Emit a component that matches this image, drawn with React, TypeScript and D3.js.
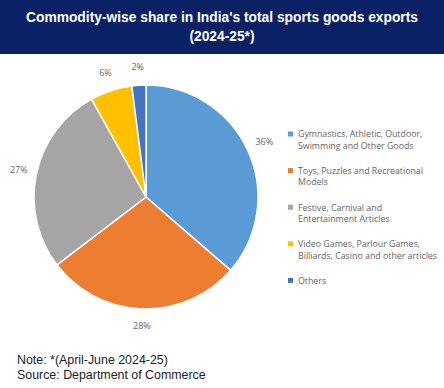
import React, { useEffect, useRef } from "react";
import * as d3 from "d3";

const categories = [
  "Gymnastics, Athletic, Outdoor, Swimming and Other Goods",
  "Toys, Puzzles and Recreational Models",
  "Festive, Carnival and Entertainment Articles",
  "Video Games, Parlour Games, Billiards, Casino and other articles",
  "Others",
];
// legend text as it wraps in the picture
const legendLines = [
  ["Gymnastics, Athletic, Outdoor,", "Swimming and Other Goods"],
  ["Toys, Puzzles and Recreational", "Models"],
  ["Festive, Carnival and", "Entertainment Articles"],
  ["Video Games, Parlour Games,", "Billiards, Casino and other articles"],
  ["Others"],
];
const shares = [36, 28, 27, 6, 2];
const colors = ["#5b9bd5", "#ed7d31", "#a5a5a5", "#ffc000", "#4472c4"];

const title = ["Commodity-wise share in India's total sports goods exports", "(2024-25*)"];
const notes = ["Note: *(April-June 2024-25)", "Source: Department of Commerce"];

export default function App() {
  const ref = useRef<SVGSVGElement>(null);

  useEffect(() => {
    const width = 444;
    const height = 388;
    const cx = 146, cy = 197, r = 112;

    const svg = d3.select(ref.current).attr("width", width).attr("height", height);
    svg.selectAll("*").remove();

    svg.append("rect").attr("width", width).attr("height", height).attr("fill", "#fff");

    // header band
    svg.append("rect").attr("width", width).attr("height", 54).attr("fill", "#0b2166");
    svg.selectAll(".title").data(title).join("text").attr("class", "title")
      .attr("x", width / 2)
      .attr("y", (d, i) => 22 + i * 18.5)
      .attr("text-anchor", "middle")
      .attr("font-family", "Liberation Sans, Arial, sans-serif")
      .attr("font-weight", "bold")
      .attr("font-size", 13.8)
      .attr("fill", "#fff")
      .text(d => d);

    const data = categories.map((c, i) => ({ name: c, value: shares[i], color: colors[i] }));
    const pie = d3.pie<any>().value(d => d.value).sort(null);
    const arcs = pie(data);
    const arc = d3.arc<any>().innerRadius(0).outerRadius(r);

    const g = svg.append("g").attr("transform", `translate(${cx}, ${cy})`);
    g.selectAll("path").data(arcs).join("path")
      .attr("d", arc)
      .attr("fill", d => d.data.color)
      .attr("stroke", "#fff")
      .attr("stroke-width", 1.5);

    // labels outside the pie
    const labelArc = d3.arc<any>().innerRadius(r + 18).outerRadius(r + 18);
    g.selectAll(".lbl").data(arcs).join("text").attr("class", "lbl")
      .attr("transform", d => {
        const [x, y] = labelArc.centroid(d);
        return `translate(${x}, ${y})`;
      })
      .attr("text-anchor", "middle")
      .attr("dominant-baseline", "middle")
      .attr("font-family", "Open Sans, Liberation Sans, sans-serif")
      .attr("font-size", 9)
      .attr("fill", "#666")
      .text(d => d.data.value + "%");

    // legend
    const legend = svg.append("g").attr("transform", "translate(288, 135)");
    const item = legend.selectAll(".item").data(legendLines).join("g").attr("class", "item")
      .attr("transform", (d, i) => `translate(0, ${i * 36.6})`);
    item.append("rect")
      .attr("x", 0).attr("y", -3.5).attr("width", 5).attr("height", 5)
      .attr("fill", (d, i) => colors[i]);
    item.selectAll("text").data(d => d).join("text")
      .attr("x", 10)
      .attr("y", (d, j) => j * 11.5)
      .attr("dominant-baseline", "middle")
      .attr("font-family", "Open Sans, Liberation Sans, sans-serif")
      .attr("font-size", 8.8)
      .attr("fill", "#666")
      .text(d => d);

    // footnote
    svg.selectAll(".note").data(notes).join("text").attr("class", "note")
      .attr("x", 17)
      .attr("y", (d, i) => 364 + i * 15)
      .attr("font-family", "Liberation Sans, Arial, sans-serif")
      .attr("font-size", 12.4)
      .attr("fill", "#222")
      .text(d => d);
  }, []);

  return (
    <svg ref={ref} style={{ position: "absolute", left: 0, top: 0 }}></svg>
  );
}
